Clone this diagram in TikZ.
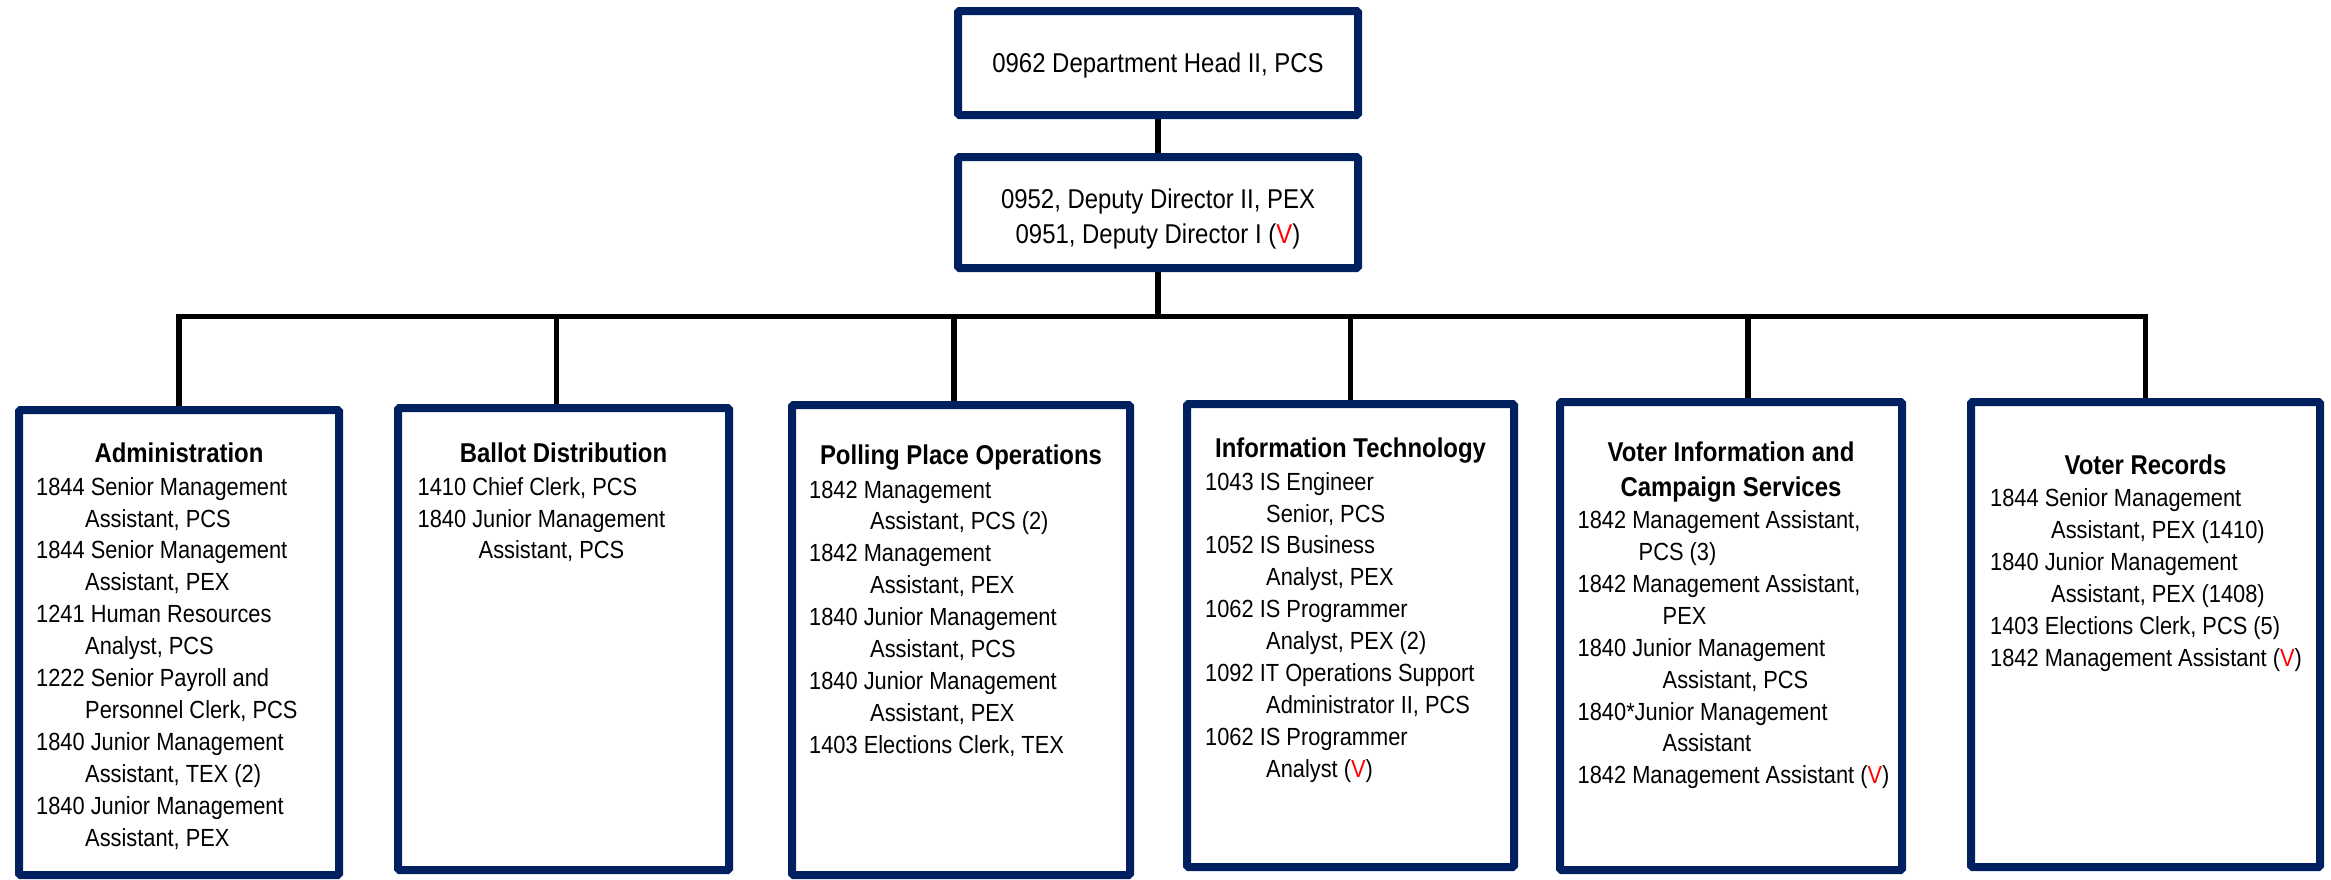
\documentclass[tikz,border=0pt]{standalone}
\usepackage{fontspec}
\setmainfont{Liberation Sans}[FakeStretch=0.88]
\usetikzlibrary{backgrounds}
\definecolor{navy}{RGB}{0,32,96}
\definecolor{vacant}{RGB}{255,0,0}
\newcommand{\vac}{(\textcolor{vacant}{V})}
\newcommand{\ind}[1][61]{\hspace*{#1pt}}

\begin{document}
\begin{tikzpicture}[x=1pt,y=-1pt,
    post/.style={draw=navy, line width=8pt, rounded corners=1.5pt, fill=white, inner sep=0pt},
    lead/.style={font=\fontsize{27.2}{35}\selectfont, align=center, inner sep=0pt},
    head/.style={font=\bfseries\fontsize{27.2}{35}\selectfont, align=center, anchor=north, inner sep=0pt},
    duty/.style={font=\fontsize{24.8}{31.9}\selectfont, align=left, anchor=north west, inner sep=0pt},
    link/.style={line width=5.5pt, line cap=rect}]
    \useasboundingbox (0,0) rectangle (2331,879);

    % top of the tree
    \node[post, minimum width=400pt, minimum height=104pt] (dhead) at (1158,63) {};
    \node[lead] (dheadtext) at (1158,65) {0962 Department Head II, PCS};
    \node[post, minimum width=400pt, minimum height=111pt] (deputy) at (1158,212.5) {};
    \node[lead] (deputytext) at (1158,218.5) {0952, Deputy Director II, PEX\\0951, Deputy Director I \vac};

    % divisions
    \node[post, minimum width=320pt, minimum height=465pt] (admin) at (179,642.5) {};
    \node[post, minimum width=331pt, minimum height=462pt] (ballot) at (563.5,639) {};
    \node[post, minimum width=338pt, minimum height=470pt] (polling) at (961,640) {};
    \node[post, minimum width=327pt, minimum height=463pt] (tech) at (1350.5,635.5) {};
    \node[post, minimum width=342pt, minimum height=468pt] (voterinfo) at (1731,636) {};
    \node[post, minimum width=349pt, minimum height=465pt] (records) at (2145.5,634.5) {};

    \node[head] (adminhead) at (179,443) {Administration};
    \node[duty] (admintext) at (36,477) {1844 Senior Management\\
        \ind[49]Assistant, PCS\\
        1844 Senior Management\\
        \ind[49]Assistant, PEX\\
        1241 Human Resources\\
        \ind[49]Analyst, PCS\\
        1222 Senior Payroll and\\
        \ind[49]Personnel Clerk, PCS\\
        1840 Junior Management\\
        \ind[49]Assistant, TEX (2)\\
        1840 Junior Management\\
        \ind[49]Assistant, PEX};

    \node[head] (ballothead) at (563.5,443) {Ballot Distribution};
    \node[duty] (ballottext) at (417.5,477) {1410 Chief Clerk, PCS\\
        1840 Junior Management\\
        \ind Assistant, PCS};

    \node[head] (pollinghead) at (961,445) {Polling Place Operations};
    \node[duty] (pollingtext) at (809,480.5) {1842 Management\\
        \ind Assistant, PCS (2)\\
        1842 Management\\
        \ind Assistant, PEX\\
        1840 Junior Management\\
        \ind Assistant, PCS\\
        1840 Junior Management\\
        \ind Assistant, PEX\\
        1403 Elections Clerk, TEX};

    \node[head] (techhead) at (1350.5,438) {Information Technology};
    \node[duty] (techtext) at (1205,472) {1043 IS Engineer\\
        \ind Senior, PCS\\
        1052 IS Business\\
        \ind Analyst, PEX\\
        1062 IS Programmer\\
        \ind Analyst, PEX (2)\\
        1092 IT Operations Support\\
        \ind Administrator II, PCS\\
        1062 IS Programmer\\
        \ind Analyst \vac};

    \node[head] (voterinfohead) at (1731,441.5) {Voter Information and\\Campaign Services};
    \node[duty] (voterinfotext) at (1577.5,510.5) {1842 Management Assistant,\\
        \ind PCS (3)\\
        1842 Management Assistant,\\
        \ind[85]PEX\\
        1840 Junior Management\\
        \ind[85]Assistant, PCS\\
        1840*Junior Management\\
        \ind[85]Assistant\\
        1842 Management Assistant \vac};

    \node[head] (recordshead) at (2145.5,455) {Voter Records};
    \node[duty] (recordstext) at (1990,488.5) {1844 Senior Management\\
        \ind Assistant, PEX (1410)\\
        1840 Junior Management\\
        \ind Assistant, PEX (1408)\\
        1403 Elections Clerk, PCS (5)\\
        1842 Management Assistant \vac};

    % connectors
    \coordinate (bus) at (1158,316.5);
    \begin{scope}[on background layer]
        \draw[link] (dhead) -- (deputy);
        \draw[link] (deputy) -- (bus);
        \draw[link] (admin.north |- bus) -- (records.north |- bus);
        \foreach \d/\dx in {admin/0,ballot/-7,polling/-7,tech/0,voterinfo/17,records/0}
            \draw[link] ([xshift=\dx]\d.north |- bus) -- ([xshift=\dx]\d.north);
    \end{scope}
\end{tikzpicture}
\end{document}
